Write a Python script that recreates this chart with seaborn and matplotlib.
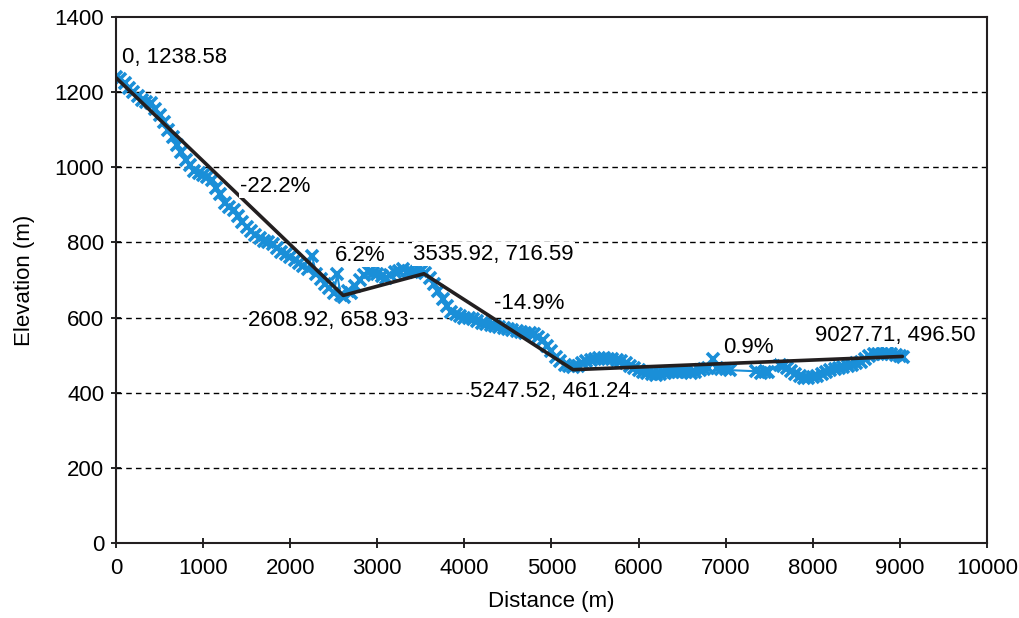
import numpy as np
import pandas as pd
import matplotlib
matplotlib.use("Agg")
import matplotlib.pyplot as plt
import seaborn as sns

# elevation profile (10 per line, same layout in both lists)
distance = [0, 50, 100, 150, 200, 250, 300, 350, 400, 450,
            500, 550, 600, 650, 700, 750, 800, 850, 900, 950,
            1000, 1050, 1100, 1150, 1200, 1250, 1300, 1350, 1400, 1450,
            1500, 1550, 1600, 1650, 1700, 1750, 1800, 1850, 1900, 1950,
            2000, 2050, 2100, 2150, 2200, 2250, 2300, 2350, 2400, 2450,
            2500, 2540, 2580, 2620, 2660, 2700, 2750, 2800, 2850, 2900,
            2950, 3000, 3050, 3100, 3150, 3200, 3250, 3300, 3350, 3400,
            3450, 3500, 3550, 3600, 3650, 3700, 3750, 3800, 3850, 3900,
            3950, 4000, 4050, 4100, 4150, 4200, 4250, 4300, 4350, 4400,
            4450, 4500, 4550, 4600, 4650, 4700, 4750, 4800, 4850, 4900,
            4950, 5000, 5050, 5100, 5150, 5200, 5250, 5300, 5350, 5400,
            5450, 5500, 5550, 5600, 5650, 5700, 5750, 5800, 5850, 5900,
            5950, 6000, 6050, 6100, 6150, 6200, 6250, 6300, 6350, 6400,
            6450, 6500, 6550, 6600, 6650, 6700, 6750, 6800, 6850, 6900,
            6950, 7000, 7050, 7350, 7400, 7450, 7480, 7620, 7660, 7700,
            7750, 7800, 7850, 7900, 7950, 8000, 8050, 8100, 8150, 8200,
            8250, 8300, 8350, 8400, 8450, 8500, 8550, 8600, 8650, 8700,
            8750, 8800, 8850, 8900, 8950, 9000, 9030]
elevation = [1240, 1235, 1225, 1212, 1200, 1190, 1180, 1175, 1170, 1155,
             1140, 1120, 1100, 1080, 1060, 1040, 1020, 1005, 990, 985,
             980, 975, 965, 945, 930, 905, 895, 885, 870, 855,
             840, 830, 820, 812, 805, 800, 795, 785, 775, 768,
             760, 752, 745, 738, 730, 765, 715, 702, 690, 678,
             665, 715, 660, 655, 672, 665, 685, 700, 712, 720,
             718, 715, 710, 705, 712, 720, 725, 730, 725, 720,
             722, 725, 718, 705, 690, 670, 650, 630, 615, 610,
             605, 600, 598, 595, 590, 585, 582, 580, 578, 575,
             572, 570, 568, 565, 562, 560, 558, 555, 548, 540,
             525, 510, 495, 485, 475, 470, 468, 470, 478, 485,
             488, 490, 492, 492, 491, 490, 488, 485, 478, 470,
             465, 460, 456, 452, 450, 448, 450, 452, 454, 455,
             456, 455, 454, 452, 455, 460, 462, 465, 490, 465,
             463, 462, 460, 457, 452, 455, 456, 475, 470, 465,
             458, 450, 445, 440, 438, 442, 445, 450, 455, 460,
             463, 466, 468, 472, 475, 478, 482, 490, 498, 502,
             503, 504, 505, 503, 500, 498, 496]

# fitted segments
trend_x = [0, 2608.92, 3535.92, 5247.52, 9027.71]
trend_y = [1238.58, 658.93, 716.59, 461.24, 496.50]

# text labels
point_labels = ["0, 1238.58", "2608.92, 658.93", "3535.92, 716.59",
                "5247.52, 461.24", "9027.71, 496.50"]
point_label_x = [70, 1520, 3410, 4065, 8025]
point_label_y = [1293, 593, 769, 402, 553]
slope_labels = ["-22.2%", "6.2%", "-14.9%", "0.9%"]
slope_label_x = [1424, 2514, 4340, 6969]
slope_label_y = [949, 766, 638, 521]

sns.set_style("ticks")
plt.rcParams["font.family"] = ["Liberation Sans", "DejaVu Sans"]
for k in ["text.color", "axes.labelcolor", "xtick.color", "ytick.color"]:
    plt.rcParams[k] = "black"

profile = pd.DataFrame({"Distance": distance, "Elevation": elevation})
trend = pd.DataFrame({"Distance": trend_x, "Elevation": trend_y})

fig = plt.figure(figsize=(10.19, 6.18), dpi=100)
ax = fig.add_axes([0.1138, 0.1214, 0.8548, 0.8511])

for yv in range(200, 1400, 200):
    ax.axhline(yv, color="black", lw=1, ls=(0, (4, 3)), zorder=0)

blue = "#1a8fd8"
sns.lineplot(data=profile, x="Distance", y="Elevation", ax=ax, color=blue,
             lw=1.5, marker="x", markersize=8.5, markeredgewidth=2.6,
             markeredgecolor=blue, zorder=2)
sns.lineplot(data=trend, x="Distance", y="Elevation", ax=ax, color="#231f20",
             lw=2.6, zorder=3)

for t, x, y in zip(point_labels, point_label_x, point_label_y):
    ax.text(x, y, t, fontsize=16, ha="left", va="center", zorder=4,
            bbox=dict(facecolor="white", edgecolor="none", pad=1))
for t, x, y in zip(slope_labels, slope_label_x, slope_label_y):
    ax.text(x, y, t, fontsize=16, ha="left", va="center", zorder=4,
            bbox=dict(facecolor="white", edgecolor="none", pad=1))

ax.set_xlim(0, 10000)
ax.set_ylim(0, 1400)
ax.set_xticks(range(0, 10001, 1000))
ax.set_yticks(range(0, 1401, 200))
ax.tick_params(direction="inout", length=7, width=1.2, labelsize=16, color="black")
ax.tick_params(axis="x", pad=7)
ax.tick_params(axis="y", pad=5)
ax.set_xlabel("Distance (m)", fontsize=16, labelpad=9)
ax.set_ylabel("Elevation (m)", fontsize=16, labelpad=14)
for s in ax.spines.values():
    s.set_visible(True)
    s.set_color("#231f20")
    s.set_linewidth(1.5)

fig.savefig("out.png", dpi=100)
